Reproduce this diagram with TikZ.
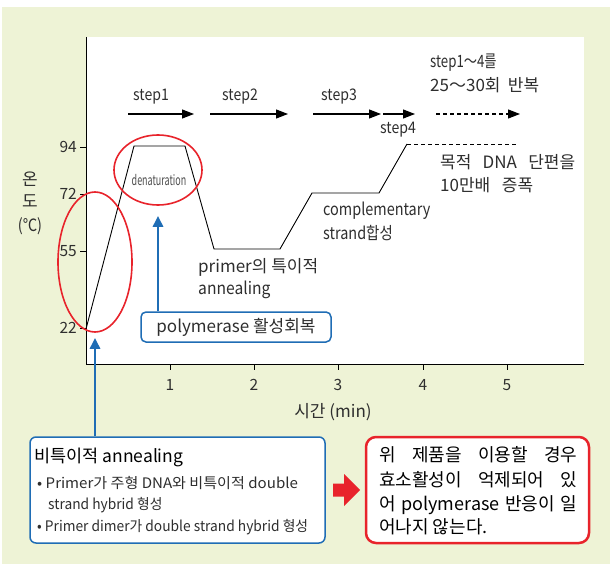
\documentclass[tikz,border=0pt]{standalone}
\usepackage{fontspec}
\setmainfont{Noto Sans CJK KR}
\newfontfamily\fsa[FakeStretch=0.64]{Noto Sans CJK KR}
\newfontfamily\fsb[FakeStretch=0.78]{Noto Sans CJK KR}
\newfontfamily\fsc[FakeStretch=0.85]{Noto Sans CJK KR}
\newfontfamily\fsd[FakeStretch=0.88]{Noto Sans CJK KR}
\newfontfamily\fse[FakeStretch=0.92]{Noto Sans CJK KR}
\newfontfamily\fsg[FakeStretch=0.95]{Noto Sans CJK KR}
\newfontfamily\fsf[FakeStretch=1.04]{Noto Sans CJK KR}
\usetikzlibrary{arrows.meta,shapes.geometric}
\definecolor{bgc}{HTML}{EEF3D6}
\definecolor{bluec}{HTML}{1F6DB5}
\definecolor{redc}{HTML}{E8232B}
\definecolor{txt}{HTML}{2E2E2E}
\tikzset{
  lbl/.style={text=txt, inner sep=0pt},
  steplbl/.style={lbl, font=\fsd\fontsize{16}{16}\selectfont},
  korlbl/.style={lbl, anchor=west, font=\fontsize{17}{17}\selectfont},
  numlbl/.style={lbl, font=\fontsize{15.5}{15.5}\selectfont},
  steparrow/.style={line width=1.1pt, black, -{Triangle[length=12pt,width=9pt]}},
  bluearrow/.style={line width=2.6pt, bluec, -{Triangle[length=11pt,width=10pt]}},
  redell/.style={draw=redc, line width=1.6pt, ellipse, inner sep=0pt},
  curve/.style={line width=0.9pt, black},
}
\begin{document}
\begin{tikzpicture}[x=1pt,y=-1pt]
\useasboundingbox (0,0) rectangle (610,564);
% background
\fill[bgc] (2,7) rectangle (610,564);
\fill[white] (86,37) rectangle (584,364);
% axes
\draw[line width=0.9pt, black] (86,37) -- (86,364) -- (584,364);
% y ticks and labels
\foreach \v/\yy in {94/147,72/194,55/251,22/328}{
  \draw[line width=0.8pt, black] (80,\yy) -- (86,\yy);
  \node[numlbl, anchor=east] (y\v) at (77,\yy) {\v};
}
% x ticks and labels
\foreach \t/\xx in {1/170,2/254,3/338,4/423,5/507}{
  \draw[line width=0.8pt, black] (\xx,364) -- (\xx,370);
  \node[numlbl] (x\t) at (\xx,385) {\t};
}
\node[lbl, font=\fontsize{17}{17}\selectfont] (xlab) at (333,412) {시간 (min)};
\node[lbl, font=\fontsize{17}{17}\selectfont] (ylab1) at (30,179) {온};
\node[lbl, font=\fontsize{17}{17}\selectfont] (ylab2) at (30,201) {도};
\node[lbl, font=\fsc\fontsize{17}{17}\selectfont] (yunit) at (30,226) {(℃)};
% temperature profile
\coordinate (p0) at (86,329);
\coordinate (p1) at (134,146);
\coordinate (p2) at (185,146);
\coordinate (p3) at (214,249);
\coordinate (p4) at (280,249);
\coordinate (p5) at (312,193);
\coordinate (p6) at (379,193);
\coordinate (p7) at (407,144);
\coordinate (p8) at (516,144);
\draw[curve] (p0) -- (p1) -- (p2) -- (p3) -- (p4) -- (p5) -- (p6) -- (p7);
\draw[curve, dash pattern=on 4pt off 3pt] (p7) -- (p8);
% step arrows
\coordinate (s1a) at (128,114); \coordinate (s1b) at (194,114);
\coordinate (s2a) at (210,114); \coordinate (s2b) at (288,114);
\coordinate (s3a) at (313,114); \coordinate (s3b) at (381,114);
\coordinate (s4a) at (383,114); \coordinate (s4b) at (415,114);
\coordinate (s5a) at (436,114); \coordinate (s5b) at (520,114);
\draw[steparrow] (s1a) -- (s1b);
\draw[steparrow] (s2a) -- (s2b);
\draw[steparrow] (s3a) -- (s3b);
\draw[steparrow] (s4a) -- (s4b);
\draw[steparrow, dash pattern=on 4pt off 3pt] (s5a) -- (s5b);
\node[steplbl] (st1) at (151,97) {step1};
\node[steplbl] (st2) at (240,97) {step2};
\node[steplbl] (st3) at (339,97) {step3};
\node[steplbl] (st4) at (398,130) {step4};
\node[korlbl, font=\fsb\fontsize{17}{17}\selectfont] (rep1) at (430,63) {step1～4를};
\node[korlbl] (rep2) at (430,85) {\makebox[109pt][s]{25～30회 반복}};
\node[korlbl] (amp1) at (440,162) {\makebox[135pt][s]{목적 DNA 단편을}};
\node[korlbl] (amp2) at (440,185) {\makebox[93pt][s]{10만배 증폭}};
\node[korlbl, font=\fsc\fontsize{17}{17}\selectfont] (cs1) at (323,211) {complementary};
\node[korlbl, font=\fsc\fontsize{17}{17}\selectfont] (cs2) at (323,233) {strand합성};
\node[korlbl] (an1) at (198,267) {\makebox[120pt][s]{primer의 특이적}};
\node[korlbl, font=\fse\fontsize{17}{17}\selectfont] (an2) at (198,290) {annealing};
% red ellipses
\node[redell, minimum width=88pt, minimum height=70pt] (den) at (158,170) {};
\node[lbl, text=black!70, font=\fsa\fontsize{14}{14}\selectfont] (dent) at (159,180) {denaturation};
\node[redell, minimum width=74pt, minimum height=140pt] (lowell) at (95,262) {};
% polymerase box
\node[draw=bluec, line width=1.5pt, fill=white, rounded corners=5pt,
      minimum width=190pt, minimum height=30pt, inner sep=0pt, text=txt,
      font=\fontsize{17}{17}\selectfont] (pbox) at (236,327) {polymerase 활성회복};
\draw[bluearrow] (pbox.north -| den.south) -- ([yshift=-10pt]den.south);
% non-specific annealing box
\node[draw=bluec, line width=1.5pt, fill=white, rounded corners=6pt,
      minimum width=295pt, minimum height=106pt, inner sep=0pt] (nbox) at (177.5,490) {};
\draw[bluearrow] (nbox.north -| lowell.south) -- ([yshift=-5pt]lowell.south);
\node[lbl, anchor=west, text=black, font=\fontsize{17.5}{17.5}\selectfont] (nt) at (34,457) {비특이적 annealing};
\node[lbl, anchor=west, font=\fsf\fontsize{14.5}{14.5}\selectfont] (nb1) at (37,483) {• Primer가 주형 DNA와 비특이적 double};
\node[lbl, anchor=west, font=\fsg\fontsize{14.5}{14.5}\selectfont] (nb2) at (48,505) {strand hybrid 형성};
\node[lbl, anchor=west, font=\fsg\fontsize{14.5}{14.5}\selectfont] (nb3) at (37,527) {• Primer dimer가 double strand hybrid 형성};
% red box
\node[draw=redc, line width=2.5pt, fill=white, rounded corners=10pt,
      minimum width=223pt, minimum height=106pt, inner sep=0pt] (rbox) at (477.5,490) {};
\foreach \i/\yy/\tx in {1/455/{위 제품을 이용할 경우},2/480/{효소활성이 억제되어 있},3/505/{어 polymerase 반응이 일}}{
  \node[lbl, anchor=west, text=black, font=\fontsize{18}{18}\selectfont] (r\i) at (379,\yy) {\makebox[198pt][s]{\tx}};
}
\node[lbl, anchor=west, text=black, font=\fontsize{18}{18}\selectfont] (r4) at (379,527) {어나지 않는다.};
% red block arrow
\fill[redc] (333,483.5) -- (344,483.5) -- (344,474) -- (360,490) -- (344,506) -- (344,496.5) -- (333,496.5) -- cycle;
\end{tikzpicture}
\end{document}
